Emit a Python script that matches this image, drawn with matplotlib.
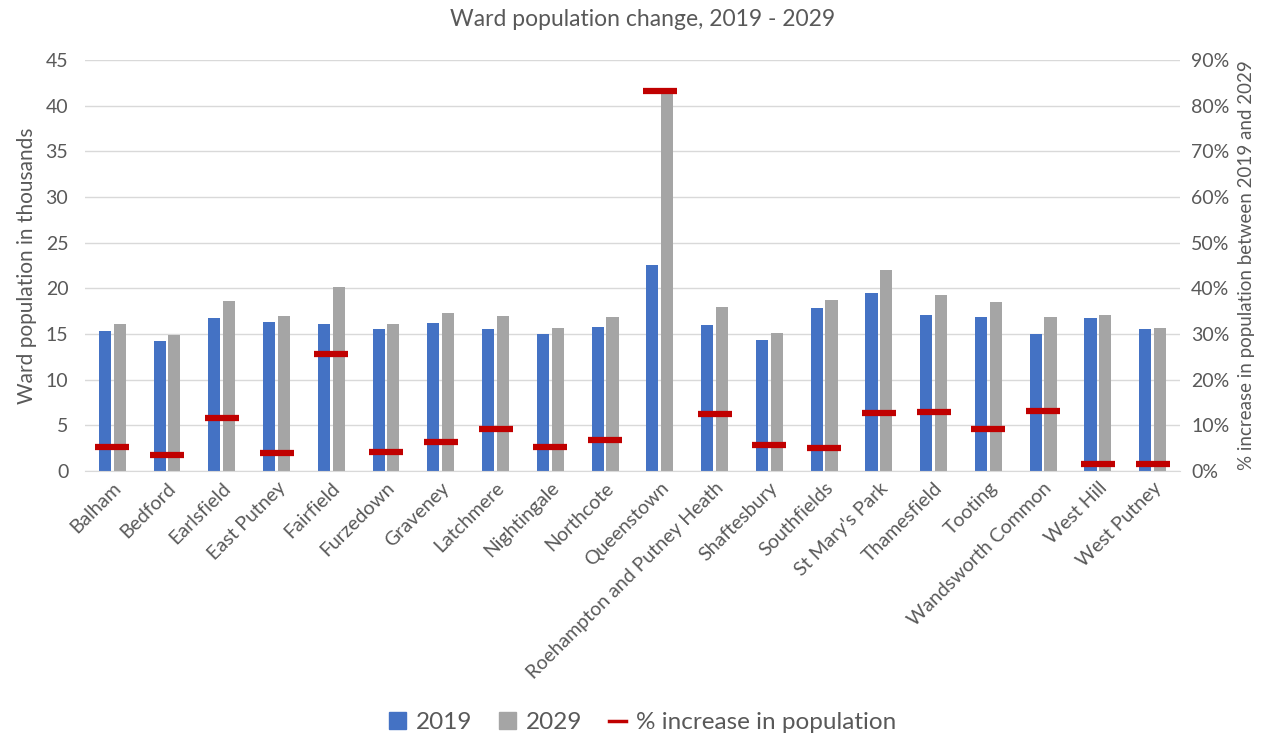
import numpy as np
import matplotlib
matplotlib.use("Agg")
import matplotlib.pyplot as plt
from matplotlib.ticker import PercentFormatter
from matplotlib.lines import Line2D
from matplotlib.patches import Patch

plt.rcParams['font.family'] = ['Lato', 'DejaVu Sans']

wards = ["Balham", "Bedford", "Earlsfield", "East Putney", "Fairfield", "Furzedown",
         "Graveney", "Latchmere", "Nightingale", "Northcote", "Queenstown",
         "Roehampton and Putney Heath", "Shaftesbury", "Southfields", "St Mary's Park",
         "Thamesfield", "Tooting", "Wandsworth Common", "West Hill", "West Putney"]
pop_2019 = [15.3, 14.25, 16.7, 16.35, 16.15, 15.5, 16.25, 15.6, 14.95, 15.8, 22.6,
            16.0, 14.35, 17.9, 19.45, 17.1, 16.9, 14.95, 16.8, 15.5]
pop_2029 = [16.1, 14.85, 18.65, 17.0, 20.2, 16.1, 17.25, 17.0, 15.7, 16.9, 41.4,
            18.0, 15.15, 18.75, 22.0, 19.3, 18.55, 16.9, 17.1, 15.7]
pct_increase = [5.3, 3.4, 11.7, 4.0, 25.6, 4.2, 6.4, 9.1, 5.3, 6.9, 83.1,
                12.4, 5.6, 5.1, 12.6, 12.9, 9.3, 13.1, 1.6, 1.6]

blue = "#4472C4"
grey = "#A5A5A5"
red = "#C00000"
text_col = "#595959"

fig = plt.figure(figsize=(12.85, 7.46), dpi=100)
ax = fig.add_axes([0.0661, 0.3686, 0.8522, 0.551])
ax2 = ax.twinx()

x = np.arange(len(wards))
w = 0.22
ax.bar(x - 0.135, pop_2019, w, color=blue, zorder=2)
ax.bar(x + 0.135, pop_2029, w, color=grey, zorder=2)

# % increase shown as short horizontal dashes on the right axis
ax2.plot(x, pct_increase, linestyle="none", marker="_", markersize=24,
         markeredgewidth=4.5, color=red, zorder=3)

ax.set_xlim(-0.5, len(wards) - 0.5)
ax.set_ylim(0, 45)
ax.set_yticks(np.arange(0, 46, 5))
ax2.set_ylim(0, 90)
ax2.set_yticks(np.arange(0, 91, 10))
ax2.yaxis.set_major_formatter(PercentFormatter(decimals=0))

ax.grid(axis="y", color="#D9D9D9", linewidth=1, zorder=0)
ax.set_axisbelow(True)
for a in (ax, ax2):
    for s in a.spines.values():
        s.set_visible(False)
    a.tick_params(length=0, labelsize=14, labelcolor=text_col)
ax.spines["bottom"].set_visible(True)
ax.spines["bottom"].set_color("#D9D9D9")

ax.set_xticks(x)
ax.set_xticklabels(wards, rotation=45, ha="right", rotation_mode="anchor")
ax.tick_params(axis="x", pad=6)
ax.tick_params(axis="y", pad=12)
ax2.tick_params(axis="y", pad=8)

ax.set_ylabel("Ward population in thousands", fontsize=15, color=text_col, labelpad=6)
ax2.set_ylabel("% increase in population between 2019 and 2029", fontsize=13.5,
               color=text_col, labelpad=6)
fig.suptitle("Ward population change, 2019 - 2029", y=0.988, fontsize=16.5, color=text_col)

handles = [Patch(color=blue, label="2019"), Patch(color=grey, label="2029"),
           Line2D([], [], color=red, linewidth=2.5, label="% increase in population")]
leg = fig.legend(handles=handles, loc="lower center", bbox_to_anchor=(0.5, -0.012),
                 ncol=3, frameon=False, fontsize=17.5, handlelength=0.7,
                 handleheight=0.7, columnspacing=1.1, handletextpad=0.4)
for t in leg.get_texts():
    t.set_color(text_col)

fig.savefig("out.png", dpi=100)
